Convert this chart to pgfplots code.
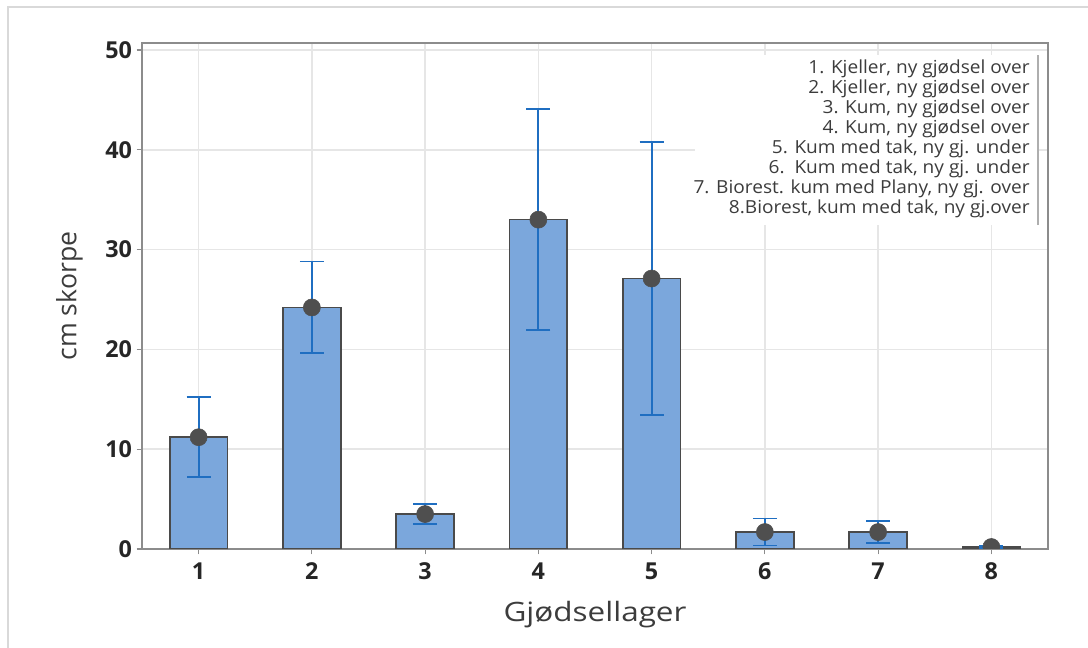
\documentclass[border=0pt]{standalone}
\usepackage{pgfplots}
\pgfplotsset{compat=1.18}
\usepackage{pgfplotstable}
\usepackage{fontspec}
\setmainfont{Open Sans}
\newfontfamily\xlabfont{Open Sans}[FakeStretch=1.18]
\newfontfamily\legfont{Open Sans}[FakeStretch=1.06]

\definecolor{barfill}{HTML}{7BA7DC}
\definecolor{baredge}{HTML}{4A4A4A}
\definecolor{errblue}{HTML}{1F6EC1}
\definecolor{dotgray}{HTML}{4F4F4F}
\definecolor{axisgray}{HTML}{8C8C8C}
\definecolor{gridgray}{HTML}{E6E6E6}
\definecolor{labelgray}{HTML}{3C3C3C}
\definecolor{framegray}{HTML}{D9D9D9}

% mean crust thickness (cm) per storage, with error half-width
\pgfplotstableread{
x  y     err
1  11.2  4.0
2  24.2  4.6
3  3.5   1.0
4  33.0  11.1
5  27.1  13.7
6  1.7   1.35
7  1.7   1.1
8  0.2   0.1
}\skorpe

\begin{document}
\begin{tikzpicture}
\path[use as bounding box] (0,0) rectangle (816pt,486pt);
\draw[framegray, line width=1pt] (6pt,0) -- (6pt,480.75pt) -- (816pt,480.75pt);
\begin{axis}[
  at={(106.5pt,74.25pt)}, anchor=south west,
  scale only axis,
  width=679.5pt, height=379.5pt,
  xmin=0.5, xmax=8.5,
  ymin=0, ymax=50.7,
  xtick={1,...,8},
  ytick={0,10,...,50},
  xtick pos=bottom, ytick pos=left,
  tick align=outside,
  major tick length=4pt,
  tick style={axisgray, line width=0.9pt},
  axis line style={axisgray, line width=1.3pt},
  grid=major,
  major grid style={gridgray, line width=1.3pt},
  tick label style={font=\bfseries\fontsize{17.5}{19}\selectfont, text=black!85},
  xticklabel style={yshift=-3pt},
  /pgf/number format/assume math mode=true,
  xlabel={\xlabfont Gjødsellager},
  ylabel={cm skorpe},
  label style={font=\fontsize{20}{23}\selectfont, text=labelgray},
  xlabel style={yshift=-9pt},
  ylabel style={yshift=10pt},
  clip marker paths=true,
]
% legend panel
\fill[white] (axis description cs:0.610,0.640) rectangle (axis description cs:0.989,0.976);
\draw[axisgray!70, line width=0.9pt] (axis description cs:0.989,0.640) -- (axis description cs:0.989,0.976);
\node[anchor=north east, align=right, inner sep=0pt, text=labelgray,
      font=\legfont\fontsize{13.5}{15}\selectfont]
  at (axis description cs:0.980,0.968) {%
  1. Kjeller, ny gjødsel over\\
  2. Kjeller, ny gjødsel over\\
  3. Kum, ny gjødsel over\\
  4. Kum, ny gjødsel over\\
  5. Kum med tak, ny gj. under\\
  6.\ \ Kum med tak, ny gj. under\\
  7. Biorest. kum med Plany, ny gj. over\\
  8.Biorest, kum med tak, ny gj.over};

\addplot[ybar, bar width=0.51, fill=barfill, draw=baredge, line width=1.2pt]
  table[x=x, y=y] {\skorpe};
\addplot[draw=none, mark=none,
  error bars/.cd, y dir=both, y explicit,
  error bar style={errblue, line width=1.4pt},
  error mark options={rotate=90, errblue, line width=1.4pt, mark size=9pt}]
  table[x=x, y=y, y error=err] {\skorpe};
\addplot[only marks, mark=*, mark size=6.4pt, mark options={fill=dotgray, draw=dotgray}]
  table[x=x, y=y] {\skorpe};
\end{axis}
\end{tikzpicture}
\end{document}
